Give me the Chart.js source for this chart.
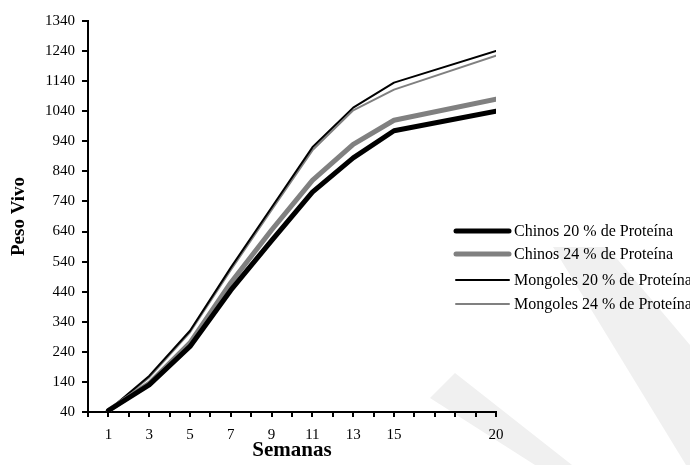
<!DOCTYPE html>
<html>
<head>
<meta charset="utf-8">
<script src="https://cdn.jsdelivr.net/npm/chart.js@4"></script>
<style>
  html, body { margin: 0; padding: 0; background: #fff; }
  #wrap { width: 690px; height: 465px; position: relative; }
</style>
</head>
<body>
<div id="wrap"><canvas id="myChart"></canvas></div>
<script>
'use strict';

// semanas (eje x) y peso vivo de cada grupo
let semanas = [1, 3, 5, 7, 9, 11, 13, 15, 20];
let chinos20 = [45, 130, 258, 445, 610, 771, 885, 975, 1040];
let chinos24 = [45, 135, 270, 470, 645, 810, 930, 1010, 1080];
let mongoles20 = [45, 160, 310, 520, 720, 920, 1052, 1135, 1240];
let mongoles24 = [45, 155, 305, 512, 712, 910, 1043, 1112, 1225];
let xLabels = [1, 3, 5, 7, 9, 11, 13, 15, 20];
let seriesNames = ['Chinos 20 % de Proteína', 'Chinos 24 % de Proteína',
  'Mongoles 20 % de Proteína', 'Mongoles 24 % de Proteína'];

function toPoints(values) {
  return values.map((v, i) => ({ x: semanas[i], y: v }));
}

let serif = "'Liberation Serif', 'Times New Roman', serif";

// marca de agua gris claro del fondo
let watermark = {
  id: 'watermark',
  beforeDraw(chart) {
    let ctx = chart.ctx;
    ctx.save();
    ctx.fillStyle = '#f0f0f0';
    ctx.beginPath();
    ctx.moveTo(430, 398);
    ctx.lineTo(455, 373);
    ctx.lineTo(572, 465);
    ctx.lineTo(535, 465);
    ctx.closePath();
    ctx.fill();
    ctx.beginPath();
    ctx.moveTo(553, 247);
    ctx.lineTo(607, 247);
    ctx.lineTo(690, 345);
    ctx.lineTo(690, 465);
    ctx.lineTo(686, 465);
    ctx.closePath();
    ctx.fill();
    ctx.restore();
  }
};

// leyenda dibujada a mano a la derecha
let sideLegend = {
  id: 'sideLegend',
  afterDraw(chart) {
    let ctx = chart.ctx;
    let rows = [231, 254, 280, 304];
    ctx.save();
    ctx.font = '16px ' + serif;
    ctx.textBaseline = 'middle';
    ctx.fillStyle = '#000';
    chart.data.datasets.forEach((ds, i) => {
      ctx.strokeStyle = ds.borderColor;
      ctx.lineWidth = ds.borderWidth;
      ctx.lineCap = 'round';
      ctx.beginPath();
      ctx.moveTo(456, rows[i]);
      ctx.lineTo(509, rows[i]);
      ctx.stroke();
      ctx.fillText(ds.label, 514, rows[i] + 1);
    });
    ctx.restore();
  }
};

let ctx = document.getElementById('myChart').getContext('2d');

let chart = new Chart(ctx, {
  type: 'line',
  data: {
    datasets: [
      { label: seriesNames[0], data: toPoints(chinos20), borderColor: '#000000', borderWidth: 5 },
      { label: seriesNames[1], data: toPoints(chinos24), borderColor: '#808080', borderWidth: 5 },
      { label: seriesNames[2], data: toPoints(mongoles20), borderColor: '#000000', borderWidth: 2 },
      { label: seriesNames[3], data: toPoints(mongoles24), borderColor: '#808080', borderWidth: 2 }
    ]
  },
  options: {
    responsive: true,
    maintainAspectRatio: false,
    animation: false,
    layout: { padding: { left: 0, right: 194, top: 21, bottom: 0 } },
    elements: {
      point: { radius: 0, hoverRadius: 0 },
      line: { tension: 0, borderJoinStyle: 'round', borderCapStyle: 'round' }
    },
    plugins: { legend: { display: false }, tooltip: { enabled: false } },
    scales: {
      x: {
        type: 'linear',
        min: 0,
        max: 20,
        afterFit(scale) { scale.height = 53; },
        border: { display: true, color: '#000', width: 2 },
        grid: { drawOnChartArea: false, drawTicks: true, tickLength: 5, color: '#000', lineWidth: 2 },
        ticks: {
          stepSize: 1,
          autoSkip: false,
          maxRotation: 0,
          padding: 9,
          color: '#000',
          font: { family: serif, size: 15 },
          callback: (v) => xLabels.includes(v) ? String(v) : ''
        },
        title: {
          display: true,
          text: 'Semanas',
          color: '#000',
          font: { family: serif, size: 21, weight: 'bold' },
          padding: { top: 0, bottom: 2 }
        }
      },
      y: {
        min: 40,
        max: 1340,
        afterFit(scale) { scale.width = 88; },
        border: { display: true, color: '#000', width: 2 },
        grid: { drawOnChartArea: false, drawTicks: true, tickLength: 6, color: '#000', lineWidth: 2 },
        ticks: {
          stepSize: 100,
          padding: 7,
          color: '#000',
          font: { family: serif, size: 15 },
          callback: (v) => String(v)
        },
        title: {
          display: true,
          text: 'Peso Vivo',
          color: '#000',
          font: { family: serif, size: 19, weight: 'bold' },
          padding: { top: 8, bottom: 0 }
        }
      }
    }
  },
  plugins: [watermark, sideLegend]
});
</script>
</body>
</html>
